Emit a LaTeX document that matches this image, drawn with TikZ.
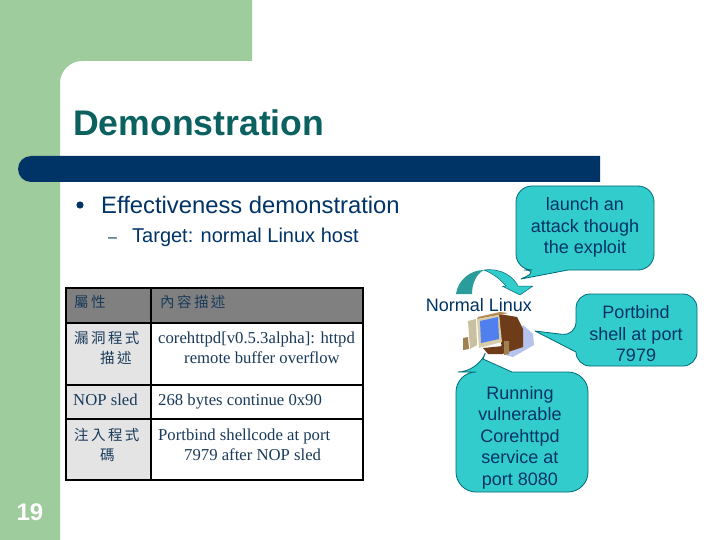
\documentclass[tikz,border=0pt]{standalone}
\usepackage{fontspec}
\setmainfont{Liberation Sans}
\newfontfamily\serifen{Liberation Serif}
\newfontfamily\cjk{Noto Sans CJK TC}
\definecolor{slidegreen}{HTML}{9FCC9C}
\definecolor{navy}{HTML}{003366}
\definecolor{titleteal}{HTML}{0B6060}
\definecolor{calloutfill}{HTML}{33CCCC}
\definecolor{calloutline}{HTML}{006B77}
\definecolor{headgray}{HTML}{808080}
\definecolor{cellgray}{HTML}{E4E4E4}
\definecolor{celltext}{HTML}{1A3A5A}
\definecolor{arrowdark}{HTML}{2A9C9C}
\definecolor{pcshadow}{HTML}{B4C4EC}
\definecolor{pcback}{HTML}{6E3C18}
\definecolor{pcfront}{HTML}{D8CDA8}
\definecolor{pctop}{HTML}{B08A50}
\definecolor{pcscreen}{HTML}{5080F0}
\definecolor{pctower}{HTML}{C8C0A0}
\definecolor{pcspeaker}{HTML}{A08050}
\tikzset{
  calloutshape/.style={fill=calloutfill,draw=calloutline,line width=0.8pt,line join=round},
  callouttext/.style={text=navy,align=center,inner sep=0pt,font=\fontsize{18}{21.5}\selectfont},
  tabletext/.style={text=celltext,anchor=base west,inner sep=0pt,font=\serifen\fontsize{16.7}{20}\selectfont},
  tablecjk/.style={text=celltext,anchor=base west,inner sep=0pt,font=\cjk\fontsize{14.5}{20}\selectfont},
  gridline/.style={draw=black,line width=1.6pt},
}
\begin{document}
\begin{tikzpicture}[x=1pt,y=-1pt]
\useasboundingbox (0,0) rectangle (720,540);
\fill[white] (0,0) rectangle (720,540);
% slide background
\fill[slidegreen] (0,0) -- (252,0) -- (252,61) -- (82,61) .. controls (70,61) and (60,71) .. (60,83) -- (60,540) -- (0,540) -- cycle;
\fill[navy] (600,156) -- (31,156) .. controls (23.8,156) and (18,161.8) .. (18,169) .. controls (18,176.2) and (23.8,182) .. (31,182) -- (600,182) -- cycle;
\node[anchor=base west,inner sep=0pt,text=titleteal,font=\bfseries\fontsize{35.6}{40}\selectfont] (title) at (73,135.5) {Demonstration};
% bullets
\fill[navy] (80,205) circle[radius=3.6];
\node[anchor=base west,inner sep=0pt,text=navy,font=\fontsize{23.8}{28}\selectfont] (bullet1) at (101,214) {Effectiveness demonstration};
\node[anchor=base west,inner sep=0pt,text=navy,font=\fontsize{16}{20}\selectfont] (dash1) at (108,242) {–};
\node[anchor=base west,inner sep=0pt,text=navy,font=\fontsize{20}{24}\selectfont] (bullet2) at (132,243) {Target: normal Linux host};
\node[anchor=base,inner sep=0pt,text=white,font=\bfseries\fontsize{24}{28}\selectfont] (pageno) at (30,520) {19};
% table
\fill[headgray] (66,288) rectangle (363,323);
\fill[cellgray] (66,323) rectangle (151,480);
\draw[gridline] (66,288) rectangle (363,480);
\draw[gridline] (151,288) -- (151,480);
\draw[gridline] (66,323) -- (363,323);
\draw[gridline] (66,385) -- (363,385);
\draw[gridline] (66,419) -- (363,419);
\node[tablecjk] (h1) at (74,307) {屬\,性};
\node[tablecjk] (h2) at (160,307) {內\,容\,描\,述};
\node[tablecjk] (c1a) at (74,343) {漏\,洞\,程\,式};
\node[tablecjk] (c1b) at (100,363) {描\,述};
\node[tabletext] (c2a) at (158,343) {corehttpd[v0.5.3alpha]: httpd};
\node[tabletext] (c2b) at (184,363) {remote buffer overflow};
\node[tabletext] (c3a) at (73,405) {NOP sled};
\node[tabletext] (c3b) at (158,405) {268 bytes continue 0x90};
\node[tablecjk] (c4a) at (74,440) {注\,入\,程\,式};
\node[tablecjk] (c4b) at (100,460) {碼};
\node[tabletext] (c4c) at (158,440) {Portbind shellcode at port};
\node[tabletext] (c4d) at (184,460) {7979 after NOP sled};
% curved arrow
\fill[arrowdark] (456,294) .. controls (458,280) and (470,270) .. (484,270) .. controls (476,274) and (472,284) .. (472,294) -- cycle;
\draw[calloutshape,line width=0.5pt] (484,270) .. controls (501,268) and (513,276) .. (518,286) -- (533,286) -- (520,295) -- (502,286) -- (506,286) .. controls (501,280) and (494,274) .. (484,270) -- cycle;
% callouts
\draw[calloutshape] (568,270) [rounded corners=16pt] -- (654,270) -- (654,186) -- (516,186) -- (516,270) -- (540,270) [sharp corners] -- (521,279) -- cycle;
\node[callouttext] (launch) at (585,227.5) {launch an\\attack though\\the exploit};
\draw[calloutshape] (576,352) [rounded corners=14pt] -- (576,366) -- (697,366) -- (697,294) -- (576,294) -- (576,336) [sharp corners] -- (535,331) -- cycle;
\node[callouttext] (portbind) at (636,334) {Portbind\\shell at port\\7979};
\draw[calloutshape] (512,372) [rounded corners=20pt] -- (588,372) -- (588,492) -- (456,492) -- (456,372) -- (478,372) [sharp corners] -- (483,359) -- cycle;
\node[callouttext] (running) at (520,437.5) {Running\\vulnerable\\Corehttpd\\service at\\port 8080};
\node[anchor=base,inner sep=0pt,text=navy,font=\fontsize{18}{20}\selectfont] (linux) at (479,311.5) {Normal Linux};
% computer icon
\fill[pcshadow] (523,325) -- (533,334) -- (534,345) -- (513,357) -- (505,355) -- cycle;
\fill[pcback] (499,314) -- (517,317) -- (523,329) -- (523,347) -- (502,354) -- cycle;
\fill[pctop] (478,317) -- (500,312) -- (508,313) -- (499,315) -- (477,319) -- cycle;
\fill[pcfront] (477,319) -- (499,315) -- (502,342) -- (479,348) -- cycle;
\fill[pcscreen] (480,321) -- (498,317) -- (499,339) -- (481,343) -- cycle;
\fill[pctower] (468,321) -- (476,319) -- (477,345) -- (470,349) -- cycle;
\fill[pcspeaker] (463,338) -- (468,337) -- (469,349) -- (463,350) -- cycle;
\fill[pcback] (483,348) -- (503,346) -- (503,354) -- (488,354) -- cycle;
\fill[pcspeaker] (504,341) -- (509,341) -- (509,354) -- (504,355) -- cycle;
\end{tikzpicture}
\end{document}
